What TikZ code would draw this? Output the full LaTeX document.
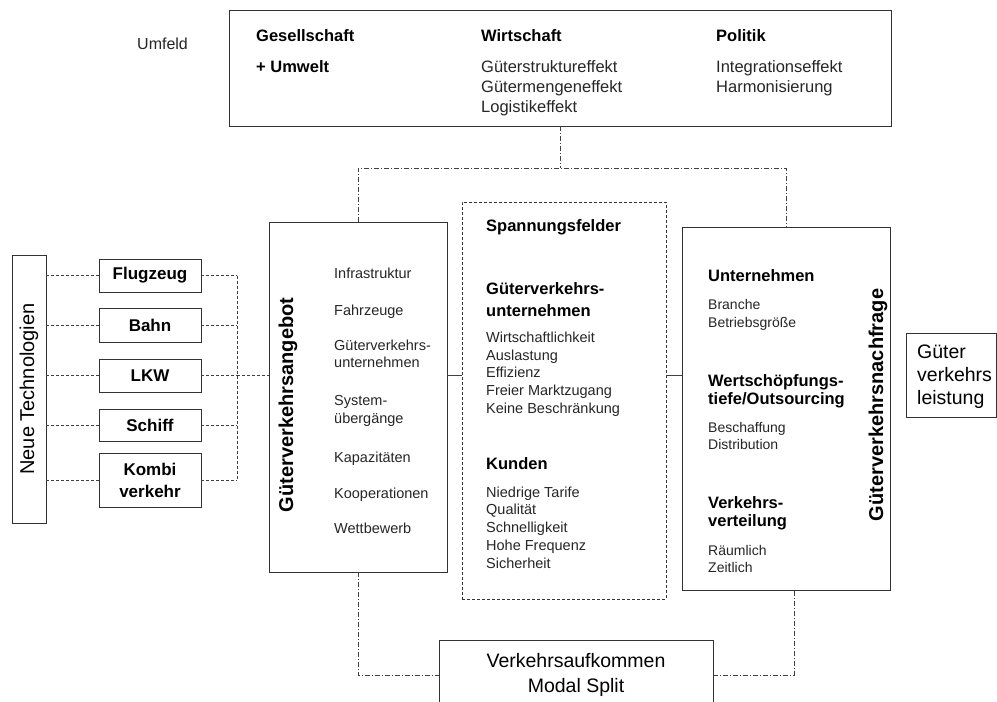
\documentclass[tikz,border=0pt]{standalone}
\usepackage{fontspec}
\setmainfont{Liberation Sans}
\newcommand\fitem{\fontsize{14.5}{17}\selectfont}
\newcommand\fitemn{\fontsize{14}{17}\selectfont}
\newcommand\ftop{\fontsize{16.5}{19}\selectfont}
\newcommand\fhead{\fontsize{16.5}{19}\selectfont\bfseries}
\newcommand\frot{\fontsize{20}{23}\selectfont\bfseries}
\newcommand\fbig{\fontsize{19.5}{25}\selectfont}
\begin{document}
\begin{tikzpicture}[x=1pt,y=-1pt,
  box/.style={draw=black!80, line width=0.9pt, inner sep=0pt},
  dline/.style={draw=black!75, line width=0.8pt, dash pattern=on 3pt off 2pt},
  ddline/.style={draw=black!75, line width=0.8pt, dash pattern=on 5pt off 2pt on 1pt off 2pt},
  sline/.style={draw=black!75, line width=0.8pt},
  txt/.style={anchor=base west, inner sep=0pt, text=black!85},
  item/.style={txt, font=\fitem},
  itemn/.style={txt, font=\fitemn},
  topi/.style={txt, font=\ftop},
  head/.style={txt, font=\fhead, text=black},
  modebox/.style={box, minimum width=102pt, font=\fontsize{17}{20}\selectfont\bfseries, text=black}
]
\useasboundingbox (0,0) rectangle (997,702);
\fill[white] (0,0) rectangle (997,702);

% top box
\node[box, minimum width=662pt, minimum height=116pt] (umfeldbox) at (560,68) {};
\node[txt, font=\fontsize{16}{19}\selectfont] (umfeld) at (137,49) {Umfeld};
\node[head] (ges) at (256,41) {Gesellschaft};
\node[head] (umw) at (256,72) {+ Umwelt};
\node[head] (wir) at (481,41) {Wirtschaft};
\node[topi] (w1) at (481,72) {Güterstruktureffekt};
\node[topi] (w2) at (481,92) {Gütermengeneffekt};
\node[topi] (w3) at (481,112) {Logistikeffekt};
\node[head] (pol) at (716,41) {Politik};
\node[topi] (p1) at (716,72) {Integrationseffekt};
\node[topi] (p2) at (716,92) {Harmonisierung};

% Neue Technologien and modes
\node[box, minimum width=34pt, minimum height=268pt] (neue) at (29,389) {};
\node[rotate=90, font=\fontsize{20}{23}\selectfont, text=black] (neuetxt) at (neue.center) {Neue Technologien};
\node[modebox, minimum height=33pt] (flug) at (150,275.5) {Flugzeug};
\node[modebox, minimum height=34pt] (bahn) at (150,325) {Bahn};
\node[modebox, minimum height=33pt] (lkw) at (150,375.5) {LKW};
\node[modebox, minimum height=32pt] (schiff) at (150,425) {Schiff};
\node[modebox, minimum height=54pt, align=center] (kombi) at (150,480) {Kombi\\[2pt]verkehr};
\coordinate (bar) at (237,375);

% main boxes
\node[box, minimum width=178pt, minimum height=350pt] (angebot) at (358,397) {};
\node[box, dash pattern=on 3pt off 2pt, minimum width=204pt, minimum height=397pt] (spann) at (564,400.5) {};
\node[box, minimum width=208pt, minimum height=363pt] (nachfrage) at (786,408.5) {};
\node[box, minimum width=274pt, minimum height=70pt, align=center, font=\fbig, text=black] (modal) at (576,675) {Verkehrsaufkommen\\Modal Split};
\node[box, minimum width=90pt, minimum height=84pt] (leist) at (951,375) {};
\node[anchor=west, align=left, inner sep=0pt, font=\fontsize{19.5}{23}\selectfont, text=black] (leisttxt) at (917,377) {Güter\\verkehrs\\leistung};

% Angebot contents
\node[rotate=90, font=\frot, text=black] (angtxt) at (288,405) {Güterverkehrsangebot};
\node[item] (a1) at (334,278) {Infrastruktur};
\node[item] (a2) at (334,315) {Fahrzeuge};
\node[item] (a3) at (334,350) {Güterverkehrs-};
\node[item] (a4) at (334,367) {unternehmen};
\node[item] (a5) at (334,405) {System-};
\node[item] (a6) at (334,423) {übergänge};
\node[item] (a7) at (334,462) {Kapazitäten};
\node[item] (a8) at (334,498) {Kooperationen};
\node[item] (a9) at (334,533) {Wettbewerb};

% Spannungsfelder contents
\node[head] (s0) at (486,231) {Spannungsfelder};
\node[head] (s1) at (486,294) {Güterverkehrs-};
\node[head] (s2) at (486,316) {unternehmen};
\node[item] (s3) at (486,342) {Wirtschaftlichkeit};
\node[item] (s4) at (486,360) {Auslastung};
\node[item] (s5) at (486,377) {Effizienz};
\node[item] (s6) at (486,395) {Freier Marktzugang};
\node[item] (s7) at (486,413) {Keine Beschränkung};
\node[head] (k0) at (486,469) {Kunden};
\node[item] (k1) at (486,497) {Niedrige Tarife};
\node[item] (k2) at (486,514) {Qualität};
\node[item] (k3) at (486,532) {Schnelligkeit};
\node[item] (k4) at (486,550) {Hohe Frequenz};
\node[item] (k5) at (486,568) {Sicherheit};

% Nachfrage contents
\node[rotate=90, font=\frot, text=black] (nachtxt) at (878,405) {Güterverkehrsnachfrage};
\node[head] (n1) at (708,281) {Unternehmen};
\node[itemn] (n2) at (708,309) {Branche};
\node[itemn] (n3) at (708,327) {Betriebsgröße};
\node[head] (n4) at (708,386) {Wertschöpfungs-};
\node[head] (n5) at (708,404) {tiefe/Outsourcing};
\node[itemn] (n6) at (708,432) {Beschaffung};
\node[itemn] (n7) at (708,449) {Distribution};
\node[head] (n8) at (708,508) {Verkehrs-};
\node[head] (n9) at (708,526) {verteilung};
\node[itemn] (n10) at (708,555) {Räumlich};
\node[itemn] (n11) at (708,572) {Zeitlich};

% connectors: left side
\foreach \m in {flug,bahn,lkw,schiff,kombi}{
  \draw[dline] (neue.east |- \m.west) -- (\m.west);
  \draw[dline] (\m.east) -- (\m.east -| bar);
}
\draw[dline] (flug.east -| bar) -- (kombi.east -| bar);
\draw[dline] (lkw.east -| bar) -- (angebot.west |- lkw.east);

% middle connectors
\coordinate (mid) at (560,375.5);
\draw[sline] (angebot.east |- mid) -- (spann.west |- mid);
\draw[sline] (spann.east |- mid) -- (nachfrage.west |- mid);

% dash-dot connectors
\coordinate (bus) at (560,168);
\draw[ddline] (umfeldbox.south) -- (bus);
\draw[ddline] (angebot.north) -- (angebot.north |- bus) -| (nachfrage.north);
\draw[ddline] (angebot.south) |- (modal.west);
\draw[ddline] (modal.east) -| ([xshift=8pt]nachfrage.south);
\end{tikzpicture}
\end{document}
